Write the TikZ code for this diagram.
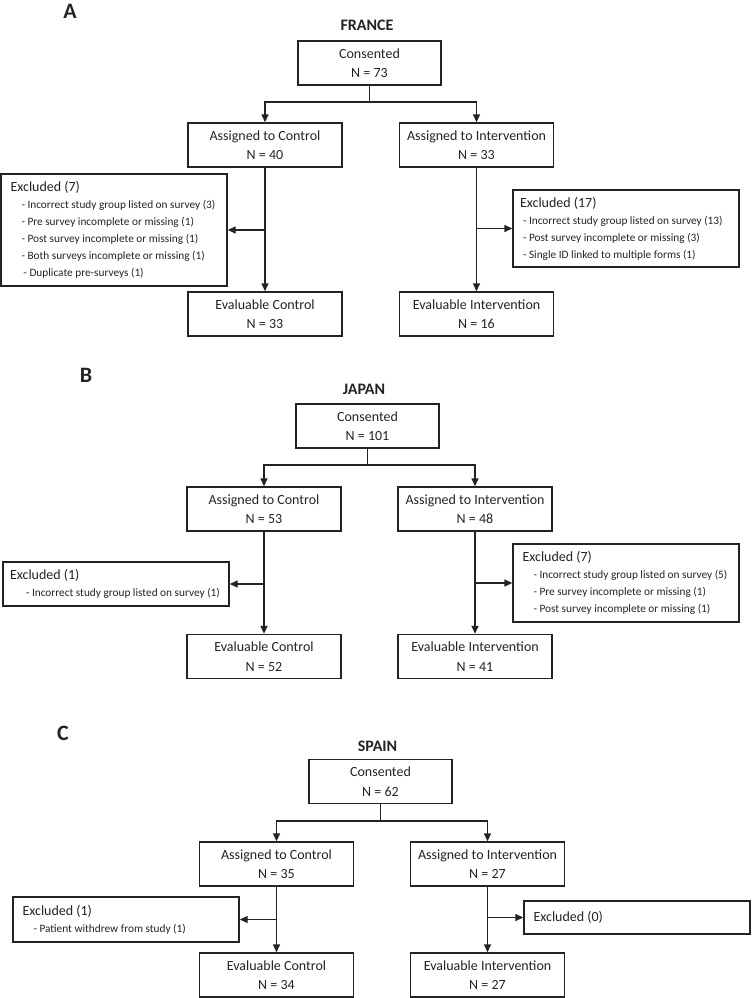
\documentclass[tikz,border=0pt]{standalone}
\usepackage{fontspec}
\setmainfont{Carlito}
\usepackage{tikz}
\usetikzlibrary{positioning,calc,arrows.meta}

\definecolor{ink}{RGB}{35,35,35}

% one reason line inside an exclusion box
\newcommand{\exline}[2][11pt]{\\{\fontsize{11.3}{17}\selectfont\hspace*{#1}\mbox{#2}}}

\tikzset{
    box/.style={draw=ink, line width=1.4pt, minimum width=154pt, minimum height=44pt,
        inner sep=0pt, align=center, font=\fontsize{14}{19.5}\selectfont},
    exbox/.style={draw=ink, line width=1.4pt, inner xsep=9.5pt, inner ysep=0pt,
        minimum width=226pt, align=flush left, text width=207pt,
        font=\fontsize{14}{17}\selectfont},
    country/.style={font=\bfseries\fontsize{16}{18}\selectfont},
    panel/.style={font=\bfseries\fontsize{22}{24}\selectfont},
    arr/.style={draw=ink, -{Triangle[length=8pt,width=7pt]}, line width=1.4pt},
    link/.style={draw=ink, line width=1.4pt}
}

\begin{document}
\begin{tikzpicture}[x=1pt, y=-1pt, text=ink]
    \useasboundingbox (0,0) rectangle (752,998);

    % Panel A: France
    \node[panel] (labA) at (70,11) {A};
    \node[country] (ttlA) at (367,25) {FRANCE};
    \node[box, minimum width=143pt] (consA) at (369.5,63) {Consented\\N = 73};
    \node[box] (ctrlA) at (265,145) {Assigned to Control\\N = 40};
    \node[box] (intA) at (476.5,145) {Assigned to Intervention\\N = 33};
    \node[box] (evcA) at (265,314) {Evaluable Control\\N = 33};
    \node[box] (eviA) at (476.5,314) {Evaluable Intervention\\N = 16};
    \node[exbox, minimum height=112pt] (exlA) at (114,230) {Excluded (7)
        \exline{- Incorrect study group listed on survey (3)}
        \exline{- Pre survey incomplete or missing (1)}
        \exline{- Post survey incomplete or missing (1)}
        \exline{- Both surveys incomplete or missing (1)}
        \exline[13pt]{- Duplicate pre-surveys (1)}};
    \node[exbox, minimum height=77pt, inner xsep=7pt, text width=212pt] (exrA) at (626,228.5) {Excluded (17)
        \exline[3pt]{- Incorrect study group listed on survey (13)}
        \exline[3pt]{- Post survey incomplete or missing (3)}
        \exline[3pt]{- Single ID linked to multiple forms (1)}};

    \draw[link] (consA.south) -- (consA.south |- 0,102) coordinate (jA);
    \draw[arr] (jA) -| (ctrlA.north);
    \draw[arr] (jA) -| (intA.north);
    \draw[arr] (ctrlA) -- (evcA);
    \draw[arr] (intA) -- (eviA);
    \draw[arr] (exlA.east -| ctrlA) -- (exlA.east);
    \draw[arr] (exrA.west -| intA) -- (exrA.west);

    % Panel B: Japan
    \node[panel] (labB) at (86,375) {B};
    \node[country] (ttlB) at (364,389) {JAPAN};
    \node[box, minimum width=143pt] (consB) at (367.5,426) {Consented\\N = 101};
    \node[box] (ctrlB) at (264,509) {Assigned to Control\\N = 53};
    \node[box] (intB) at (475,509) {Assigned to Intervention\\N = 48};
    \node[box] (evcB) at (264,656.5) {Evaluable Control\\N = 52};
    \node[box] (eviB) at (475,656.5) {Evaluable Intervention\\N = 41};
    \node[exbox, minimum height=44pt, inner xsep=7pt, text width=212pt] (exlB) at (116,584) {Excluded (1)
        \exline[16pt]{- Incorrect study group listed on survey (1)}};
    \node[exbox, minimum height=78pt] (exrB) at (626,583) {Excluded (7)
        \exline{- Incorrect study group listed on survey (5)}
        \exline{- Pre survey incomplete or missing (1)}
        \exline{- Post survey incomplete or missing (1)}};

    \draw[link] (consB.south) -- (consB.south |- 0,465) coordinate (jB);
    \draw[arr] (jB) -| (ctrlB.north);
    \draw[arr] (jB) -| (intB.north);
    \draw[arr] (ctrlB) -- (evcB);
    \draw[arr] (intB) -- (eviB);
    \draw[arr] (exlB.east -| ctrlB) -- (exlB.east);
    \draw[arr] (exrB.west -| intB) -- (exrB.west);

    % Panel C: Spain
    \node[panel] (labC) at (63,733) {C};
    \node[country] (ttlC) at (377.5,746) {SPAIN};
    \node[box, minimum width=143pt] (consC) at (380.5,781.5) {Consented\\N = 62};
    \node[box] (ctrlC) at (276.5,864) {Assigned to Control\\N = 35};
    \node[box] (intC) at (487.5,864) {Assigned to Intervention\\N = 27};
    \node[box] (evcC) at (276.5,975) {Evaluable Control\\N = 34};
    \node[box] (eviC) at (487.5,975) {Evaluable Intervention\\N = 27};
    \node[exbox, minimum height=45pt] (exlC) at (126,919.5) {Excluded (1)
        \exline{- Patient withdrew from study (1)}};
    \node[exbox, minimum height=33pt] (exrC) at (637,917.5) {Excluded (0)};

    \draw[link] (consC.south) -- (consC.south |- 0,821) coordinate (jC);
    \draw[arr] (jC) -| (ctrlC.north);
    \draw[arr] (jC) -| (intC.north);
    \draw[arr] (ctrlC) -- (evcC);
    \draw[arr] (intC) -- (eviC);
    \draw[arr] (exlC.east -| ctrlC) -- (exlC.east);
    \draw[arr] (exrC.west -| intC) -- (exrC.west);
\end{tikzpicture}
\end{document}
